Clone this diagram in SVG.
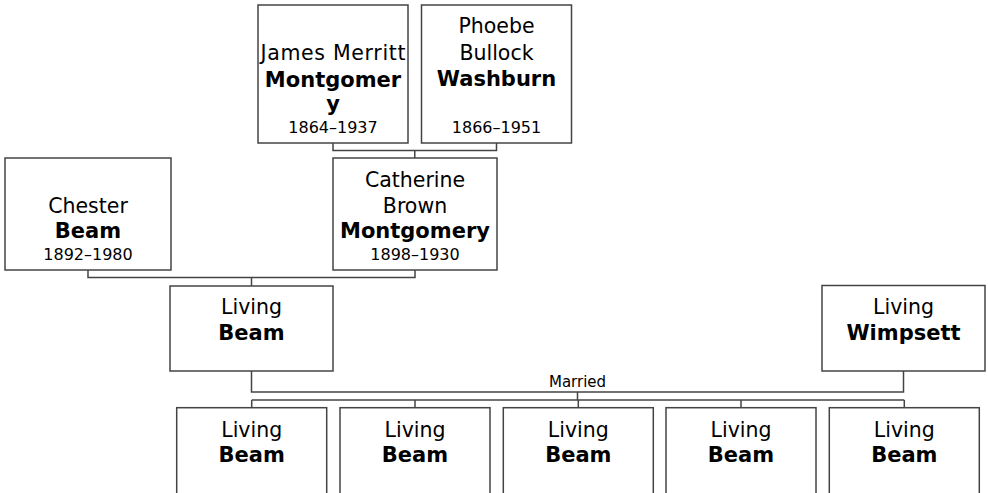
<svg xmlns="http://www.w3.org/2000/svg" width="988" height="493" viewBox="0 0 988 493">
<style>
.box{fill:#fff;stroke:#444;stroke-width:1.5}
.ln{fill:none;stroke:#444;stroke-width:1.5}
text{font-family:"DejaVu Sans",Verdana,sans-serif;text-anchor:middle;fill:#000}
.n{font-size:20.5px}
.b{font-size:21px;font-weight:bold}
.d{font-size:16px}
.m{font-size:15px}
</style>
<rect width="988" height="493" fill="#fff"/>
<g id="connectors">
<path class="ln" d="M333,143V150.5H496.5V143M414.75,150.5V158"/>
<path class="ln" d="M88,270V277.5H415V270M251.5,277.5V286"/>
<path class="ln" d="M251.5,371V392H903.5V371M577.5,392V400"/>
<path class="ln" d="M251.7,400H904.3M251.7,400V407.7M415,400V407.7M578.3,400V407.7M741,400V407.7M904.3,400V407.7"/>
<text class="m" x="577.5" y="387">Married</text>
</g>
<g id="james">
<rect class="box" x="258" y="5" width="150" height="138"/>
<text class="n" x="333" y="60" textLength="145" lengthAdjust="spacing">James Merritt</text>
<text class="b" x="333" y="87">Montgomer</text>
<text class="b" x="333" y="111">y</text>
<text class="d" x="333" y="133">1864–1937</text>
</g>
<g id="phoebe">
<rect class="box" x="421.5" y="5" width="150" height="138"/>
<text class="n" x="496.5" y="33">Phoebe</text>
<text class="n" x="496.5" y="60">Bullock</text>
<text class="b" x="496.5" y="85.5">Washburn</text>
<text class="d" x="496.5" y="132.5">1866–1951</text>
</g>
<g id="chester">
<rect class="box" x="5" y="158" width="166" height="112"/>
<text class="n" x="88" y="213">Chester</text>
<text class="b" x="88" y="238">Beam</text>
<text class="d" x="88" y="260">1892–1980</text>
</g>
<g id="catherine">
<rect class="box" x="333" y="158" width="164" height="112"/>
<text class="n" x="415" y="187">Catherine</text>
<text class="n" x="415" y="213">Brown</text>
<text class="b" x="415" y="238">Montgomery</text>
<text class="d" x="415" y="260">1898–1930</text>
</g>
<g id="living-beam">
<rect class="box" x="170" y="286" width="163" height="85"/>
<text class="n" x="251.5" y="314">Living</text>
<text class="b" x="251.5" y="340">Beam</text>
</g>
<g id="living-wimpsett">
<rect class="box" x="822" y="285.5" width="163" height="85.5"/>
<text class="n" x="903.5" y="314">Living</text>
<text class="b" x="903.5" y="340">Wimpsett</text>
</g>
<g id="child1">
<rect class="box" x="176.7" y="407.7" width="150" height="100"/>
<text class="n" x="251.7" y="436.5">Living</text>
<text class="b" x="251.7" y="461.5">Beam</text>
</g>
<g id="child2">
<rect class="box" x="340" y="407.7" width="150" height="100"/>
<text class="n" x="415" y="436.5">Living</text>
<text class="b" x="415" y="461.5">Beam</text>
</g>
<g id="child3">
<rect class="box" x="503.3" y="407.7" width="150" height="100"/>
<text class="n" x="578.3" y="436.5">Living</text>
<text class="b" x="578.3" y="461.5">Beam</text>
</g>
<g id="child4">
<rect class="box" x="666" y="407.7" width="150" height="100"/>
<text class="n" x="741" y="436.5">Living</text>
<text class="b" x="741" y="461.5">Beam</text>
</g>
<g id="child5">
<rect class="box" x="829.3" y="407.7" width="150" height="100"/>
<text class="n" x="904.3" y="436.5">Living</text>
<text class="b" x="904.3" y="461.5">Beam</text>
</g>
</svg>
